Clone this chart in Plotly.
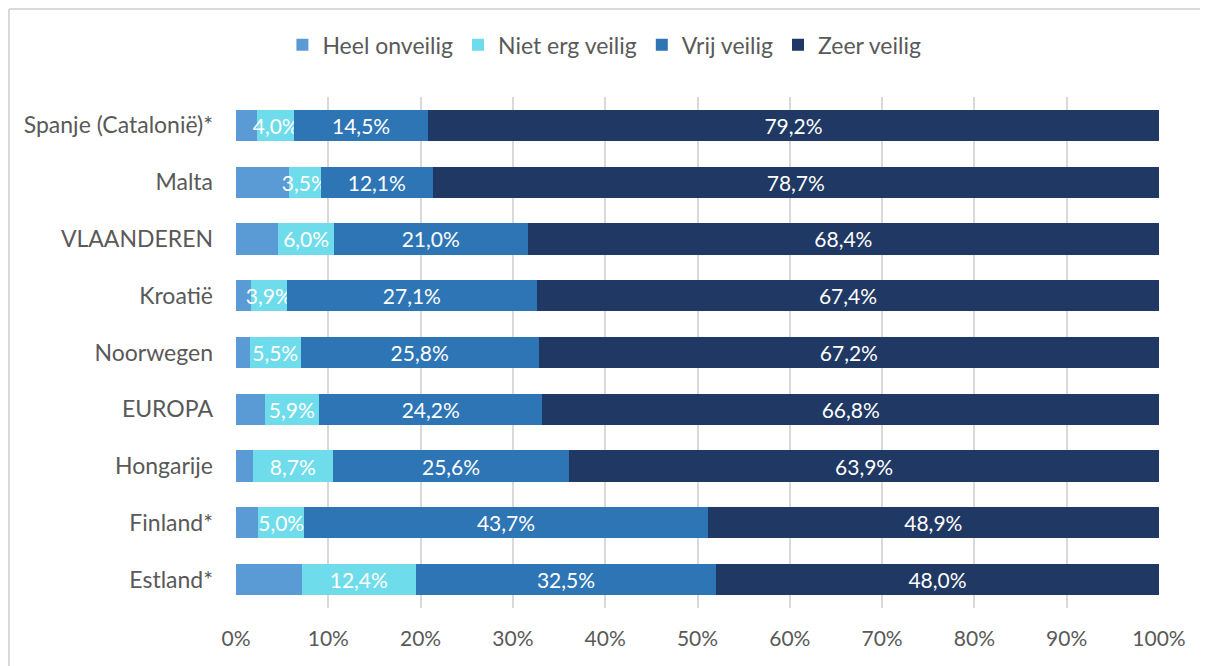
import plotly.graph_objects as go

# Survey data: share of respondents per safety category (%)
LANDEN = ["Spanje (Catalonië)*", "Malta", "VLAANDEREN", "Kroatië", "Noorwegen",
          "EUROPA", "Hongarije", "Finland*", "Estland*"]
heel_onveilig = [2.3, 5.7, 4.6, 1.6, 1.5, 3.1, 1.8, 2.4, 7.1]
niet_erg_veilig = [4.0, 3.5, 6.0, 3.9, 5.5, 5.9, 8.7, 5.0, 12.4]
vrij_veilig = [14.5, 12.1, 21.0, 27.1, 25.8, 24.2, 25.6, 43.7, 32.5]
zeer_veilig = [79.2, 78.7, 68.4, 67.4, 67.2, 66.8, 63.9, 48.9, 48.0]

SERIES = [
    ("Heel onveilig", heel_onveilig, "#5B9BD5", False),
    ("Niet erg veilig", niet_erg_veilig, "#6FDCEB", True),
    ("Vrij veilig", vrij_veilig, "#2E75B6", True),
    ("Zeer veilig", zeer_veilig, "#203864", True),
]

FONT = "Lato, 'Open Sans', sans-serif"


def fmt(v):
    # Dutch decimal comma
    return f"{v:.1f}%".replace(".", ",")


fig = go.Figure()
for name, vals, color, show_label in SERIES:
    fig.add_trace(go.Bar(
        y=LANDEN,
        x=vals,
        name=name,
        orientation="h",
        marker=dict(color=color, line=dict(width=0)),
        text=[fmt(v) for v in vals] if show_label else None,
        textposition="inside" if show_label else "none",
        insidetextanchor="middle",
        constraintext="none",
        textfont=dict(color="white", size=21, family=FONT),
        hoverinfo="x+y+name",
    ))

# the page body adds an 8px offset, so the figure is 8px smaller than the window
PLOT_W, PLOT_H = 923, 511
fig.update_layout(
    barmode="stack",
    bargap=0.45,
    width=1200,
    height=658,
    margin=dict(l=228, r=49, t=89, b=58),
    plot_bgcolor="white",
    paper_bgcolor="white",
    font=dict(family=FONT, size=23, color="#595959"),
    legend=dict(
        orientation="h",
        xref="container",
        x=0.497,
        xanchor="center",
        yref="container",
        y=0.944,
        yanchor="middle",
        font=dict(size=23, color="#595959"),
        itemwidth=30,
        traceorder="normal",
    ),
    xaxis=dict(
        range=[0, 100],
        dtick=10,
        ticksuffix="%",
        tickfont=dict(size=21),
        showgrid=True,
        gridcolor="#d9d9d9",
        gridwidth=2,
        zeroline=False,
        showline=False,
        ticklabelstandoff=16,
    ),
    yaxis=dict(
        autorange="reversed",
        tickfont=dict(size=23),
        showgrid=False,
        showline=False,
        ticklabelstandoff=22,
    ),
    # chart frame: only the top and left edges are visible in the window
    shapes=[
        dict(type="line", xref="paper", yref="paper",
             x0=-227 / PLOT_W, x1=-227 / PLOT_W, y0=-58 / PLOT_H, y1=1 + 88 / PLOT_H,
             line=dict(color="#d9d9d9", width=2)),
        dict(type="line", xref="paper", yref="paper",
             x0=-227 / PLOT_W, x1=1 + 49 / PLOT_W, y0=1 + 88 / PLOT_H, y1=1 + 88 / PLOT_H,
             line=dict(color="#d9d9d9", width=2)),
    ],
)

fig.write_html("out.html")
